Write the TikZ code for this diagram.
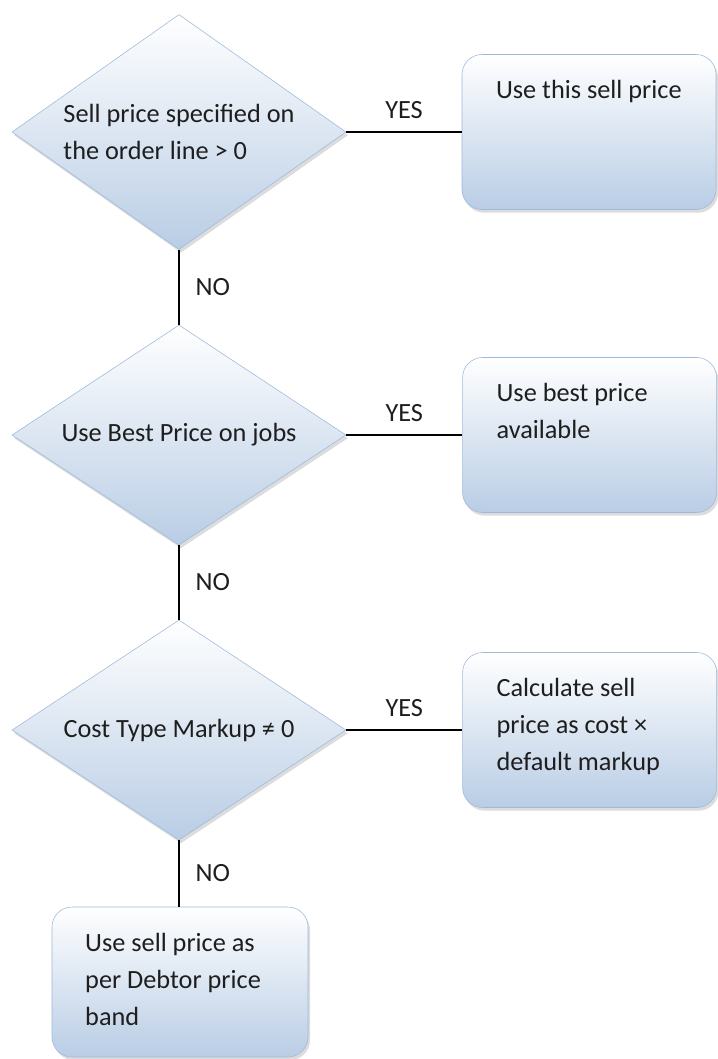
\documentclass[tikz,border=0pt]{standalone}
\usepackage{fontspec}
\setmainfont{Carlito}
\usepackage{xcolor}
\usepackage{tikz}
\usetikzlibrary{positioning,shapes.geometric,shadows}
\definecolor{fillblue}{HTML}{B9CDE5}
\definecolor{edgeblue}{HTML}{9DB9DB}
\definecolor{inktext}{HTML}{1E1E1E}
\newcommand{\flowfont}{\fontsize{18.7}{26.3}\selectfont}
\tikzset{
  basenode/.style={draw=edgeblue,thin,top color=white,bottom color=fillblue,
    drop shadow={opacity=0.28,shadow xshift=0.05cm,shadow yshift=-0.08cm},
    text=inktext,font=\flowfont},
  decnode/.style={basenode,diamond,aspect=1.5,minimum width=8.35cm,minimum height=5.875cm,inner sep=0pt,align=left},
  resnode/.style={basenode,rectangle,rounded corners=0.5cm,minimum width=6.35cm,minimum height=3.875cm},
  restext/.style={inner sep=0pt,align=left,text=inktext,font=\flowfont},
  flowline/.style={line width=2pt,black},
  lbl/.style={inner sep=0pt,text=inktext,font=\flowfont},
}

\begin{document}
\begin{tikzpicture}
  \useasboundingbox (0,0) rectangle (17.925,-26.475);
  % decisions
  \node[decnode,aspect=1.42] (dSell) at (4.475,-3.30) {Sell price specified on\\the order line > 0};
  \node[decnode,minimum height=5.5cm] (dBest) at (4.475,-10.875) {Use Best Price on jobs};
  \node[decnode,minimum height=5.5cm] (dMarkup) at (4.475,-18.25) {Cost Type Markup ≠ 0};
  % results
  \node[resnode] (bSell) at (14.725,-3.30) {};
  \node[resnode] (bBest) at (14.74,-10.875) {};
  \node[resnode] (bCalc) at (14.74,-18.25) {};
  \node[resnode,minimum width=6.4cm,minimum height=3.75cm] (bBand) at (4.5,-24.55) {};
  \node[restext,below right=0.65cm and 0.85cm of bSell.north west] (tSell) {Use this sell price};
  \node[restext,below right=0.65cm and 0.85cm of bBest.north west] (tBest) {Use best price\\available};
  \node[restext,below right=0.65cm and 0.85cm of bCalc.north west] (tCalc) {Calculate sell\\price as cost ×\\default markup};
  \node[restext,below right=0.65cm and 0.83cm of bBand.north west] (tBand) {Use sell price as\\per Debtor price\\band};
  % connectors
  \draw[flowline] (dSell.east) -- node[lbl,above=0.3cm] {YES} (bSell.west);
  \draw[flowline] (dBest.east) -- node[lbl,above=0.3cm] {YES} (bBest.west);
  \draw[flowline] (dMarkup.east) -- node[lbl,above=0.3cm] {YES} (bCalc.west);
  \draw[flowline] (dSell.south) -- node[lbl,right=0.38cm] {NO} (dBest.north);
  \draw[flowline] (dBest.south) -- node[lbl,right=0.38cm] {NO} (dMarkup.north);
  \draw[flowline] (dMarkup.south) -- node[lbl,right=0.38cm] {NO} (dMarkup.south |- bBand.north);
\end{tikzpicture}
\end{document}
